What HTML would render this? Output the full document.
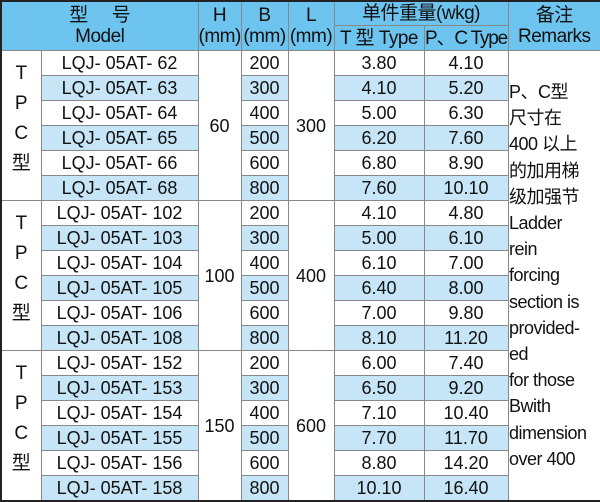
<!DOCTYPE html>
<html><head><meta charset="utf-8"><style>
html,body{margin:0;padding:0;background:#fff;}
body{width:600px;height:501px;overflow:hidden;position:relative;font-family:"Liberation Sans","Noto Sans CJK SC",sans-serif;}
table{position:absolute;left:0;top:0;width:600px;border-collapse:collapse;table-layout:fixed;border:2px solid #222;}
td{border:1px solid #888;padding:0;text-align:center;font-size:18px;color:#111;white-space:nowrap;overflow:hidden;height:24px;line-height:22px;}
tr.h td{background:#6cc4ef;font-size:19px;line-height:21px;letter-spacing:-0.5px;}
td.b{background:#c6e6f8;}
td.side{vertical-align:top;font-size:19px;line-height:30px;padding-top:8px;}
tr.g td{border-top:1.5px solid #444;}
td.rm{vertical-align:top;}
#rm{position:absolute;left:509px;top:79px;font-size:18px;line-height:26.2px;color:#111;letter-spacing:-0.5px;}
</style></head><body>
<table>
<colgroup><col style="width:40px"><col style="width:157px"><col style="width:43px"><col style="width:47px"><col style="width:46px"><col style="width:90px"><col style="width:84px"><col style="width:93px"></colgroup>
<tr class="h"><td colspan="2" rowspan="2" style="height:47px">型&nbsp;&nbsp;&nbsp;&nbsp;&nbsp;号<br>Model</td><td rowspan="2">H<br>(mm)</td><td rowspan="2">B<br>(mm)</td><td rowspan="2">L<br>(mm)</td><td colspan="2" style="height:23px">单件重量(wkg)</td><td rowspan="2">备注<br>Remarks</td></tr>
<tr class="h"><td style="height:23px">T 型 Type</td><td style="letter-spacing:-1.2px">P、C Type</td></tr>

<tr><td class="side" rowspan="6">T<br>P<br>C<br>型</td><td>LQJ- 05AT- 62</td><td rowspan="6">60</td><td>200</td><td rowspan="6">300</td><td>3.80</td><td>4.10</td><td class="rm" rowspan="18"></td></tr>
<tr><td class="b">LQJ- 05AT- 63</td><td class="b">300</td><td class="b">4.10</td><td class="b">5.20</td></tr>
<tr><td>LQJ- 05AT- 64</td><td>400</td><td>5.00</td><td>6.30</td></tr>
<tr><td class="b">LQJ- 05AT- 65</td><td class="b">500</td><td class="b">6.20</td><td class="b">7.60</td></tr>
<tr><td>LQJ- 05AT- 66</td><td>600</td><td>6.80</td><td>8.90</td></tr>
<tr><td class="b">LQJ- 05AT- 68</td><td class="b">800</td><td class="b">7.60</td><td class="b">10.10</td></tr>

<tr class="g"><td class="side" rowspan="6">T<br>P<br>C<br>型</td><td>LQJ- 05AT- 102</td><td rowspan="6">100</td><td>200</td><td rowspan="6">400</td><td>4.10</td><td>4.80</td></tr>
<tr><td class="b">LQJ- 05AT- 103</td><td class="b">300</td><td class="b">5.00</td><td class="b">6.10</td></tr>
<tr><td>LQJ- 05AT- 104</td><td>400</td><td>6.10</td><td>7.00</td></tr>
<tr><td class="b">LQJ- 05AT- 105</td><td class="b">500</td><td class="b">6.40</td><td class="b">8.00</td></tr>
<tr><td>LQJ- 05AT- 106</td><td>600</td><td>7.00</td><td>9.80</td></tr>
<tr><td class="b">LQJ- 05AT- 108</td><td class="b">800</td><td class="b">8.10</td><td class="b">11.20</td></tr>

<tr class="g"><td class="side" rowspan="6">T<br>P<br>C<br>型</td><td>LQJ- 05AT- 152</td><td rowspan="6">150</td><td>200</td><td rowspan="6">600</td><td>6.00</td><td>7.40</td></tr>
<tr><td class="b">LQJ- 05AT- 153</td><td class="b">300</td><td class="b">6.50</td><td class="b">9.20</td></tr>
<tr><td>LQJ- 05AT- 154</td><td>400</td><td>7.10</td><td>10.40</td></tr>
<tr><td class="b">LQJ- 05AT- 155</td><td class="b">500</td><td class="b">7.70</td><td class="b">11.70</td></tr>
<tr><td>LQJ- 05AT- 156</td><td>600</td><td>8.80</td><td>14.20</td></tr>
<tr><td class="b">LQJ- 05AT- 158</td><td class="b">800</td><td class="b">10.10</td><td class="b">16.40</td></tr>
</table>
<div id="rm">P、C型<br>尺寸在<br>400 以上<br>的加用梯<br>级加强节<br>Ladder<br>rein<br>forcing<br>section is<br>provided-<br>ed<br>for those<br>Bwith<br>dimension<br>over 400</div>
</body></html>
